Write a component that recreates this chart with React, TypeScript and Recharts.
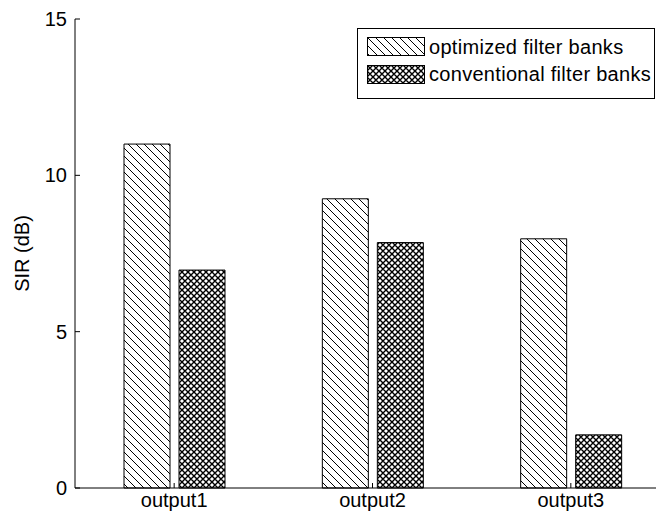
import React from 'react';
import { BarChart, Bar, XAxis, YAxis, Legend, Label } from 'recharts';

const categories = ['output1', 'output2', 'output3'];
const optimized = [11.0, 9.25, 7.97];
const conventional = [6.97, 7.85, 1.7];
const yTicks = [0, 5, 10, 15];
const seriesNames = ['optimized filter banks', 'conventional filter banks'];
const seriesFills = ['url(#hatchPat)', 'url(#crossPat)'];

const data = categories.map((name, i) => ({
  name,
  optimized: optimized[i],
  conventional: conventional[i],
}));

const FONT = '"Liberation Sans", Arial, Helvetica, sans-serif';
const FS = 20;

const PatternDefs = () => (
  <svg width={0} height={0} style={{ position: 'absolute', left: 0, top: 0 }}>
    <defs>
      <pattern id="hatchPat" width={8} height={8} patternUnits="userSpaceOnUse">
        <rect width={8} height={8} fill="#fff" />
        <path d="M0,0 L8,8 M-4,4 L4,12 M4,-4 L12,4" stroke="#000" strokeWidth={1} />
      </pattern>
      <pattern id="crossPat" width={6} height={6} patternUnits="userSpaceOnUse">
        <rect width={6} height={6} fill="#fff" />
        <path
          d="M0,0 L6,6 M-3,3 L3,9 M3,-3 L9,3 M0,6 L6,0 M-3,3 L3,-3 M3,9 L9,3"
          stroke="#000"
          strokeWidth={1.4}
        />
      </pattern>
    </defs>
  </svg>
);

const LegendBox = () => {
  const rows = [
    { swTop: 9, textCenter: 18.5 },
    { swTop: 37, textCenter: 46 },
  ];
  return (
    <div
      style={{
        position: 'relative',
        width: 298,
        height: 71,
        border: '1px solid #000',
        background: '#fff',
        boxSizing: 'border-box',
        fontFamily: FONT,
        fontSize: FS,
        letterSpacing: '0.3px',
        color: '#000',
      }}
    >
      {seriesNames.map((n, i) => (
        <React.Fragment key={n}>
          <svg
            width={58}
            height={19}
            style={{ position: 'absolute', left: 9, top: rows[i].swTop - 1 }}
          >
            <rect x={0.5} y={0.5} width={57} height={18} fill={seriesFills[i]} stroke="#000" strokeWidth={1} />
          </svg>
          <div
            style={{
              position: 'absolute',
              left: 71,
              top: rows[i].textCenter - 1 - 12,
              height: 24,
              lineHeight: '24px',
              whiteSpace: 'nowrap',
            }}
          >
            {n}
          </div>
        </React.Fragment>
      ))}
    </div>
  );
};

const YLabel = (props: any) => {
  const vb = props.viewBox || {};
  const cx = vb.x + 21;
  const cy = vb.y + vb.height / 2;
  return (
    <text
      x={cx}
      y={cy}
      transform={`rotate(-90, ${cx}, ${cy})`}
      textAnchor="middle"
      fontFamily={FONT}
      fontSize={FS}
      fill="#000"
    >
      SIR (dB)
    </text>
  );
};

export default function App() {
  return (
    <div style={{ position: 'relative', width: 656, height: 514 }}>
      <PatternDefs />
      <BarChart
        width={656}
        height={514}
        data={data}
        margin={{ top: 11, right: 0, bottom: 0, left: 0 }}
        barSize={46}
        barGap={9}
      >
        <XAxis
          dataKey="name"
          xAxisId={0}
          height={34}
          padding={{ left: 0, right: -6 }}
          axisLine={{ stroke: '#000', strokeWidth: 1 }}
          tickLine={{ stroke: '#000', strokeWidth: 1 }}
          tickSize={-5}
          tickMargin={10}
          tick={{ fill: '#000', fontFamily: FONT, fontSize: FS }}
          interval={0}
        />
        <XAxis
          dataKey="name"
          xAxisId="top"
          orientation="top"
          height={0}
          padding={{ left: 0, right: -6 }}
          axisLine={{ stroke: '#000', strokeWidth: 1 }}
          tickLine={{ stroke: '#000', strokeWidth: 1 }}
          tickSize={-5}
          tick={() => <g />}
          interval={0}
        />
        <YAxis
          width={67}
          domain={[0, 15]}
          ticks={yTicks}
          interval={0}
          axisLine={{ stroke: '#000', strokeWidth: 1 }}
          tickLine={{ stroke: '#000', strokeWidth: 1 }}
          tickSize={-5}
          tickMargin={13}
          tick={{ fill: '#000', fontFamily: FONT, fontSize: FS }}
        >
          <Label content={YLabel} />
        </YAxis>
        <Legend
          layout="horizontal"
          verticalAlign="middle"
          align="center"
          content={() => <LegendBox />}
          wrapperStyle={{ position: 'absolute', left: 349, top: 20, width: 298, height: 71, margin: 0, padding: 0 }}
        />
        <Bar
          dataKey="optimized"
          name={seriesNames[0]}
          fill={seriesFills[0]}
          stroke="#000"
          strokeWidth={1}
          isAnimationActive={false}
        />
        <Bar
          dataKey="conventional"
          name={seriesNames[1]}
          fill={seriesFills[1]}
          stroke="#000"
          strokeWidth={1}
          isAnimationActive={false}
        />
      </BarChart>
    </div>
  );
}
